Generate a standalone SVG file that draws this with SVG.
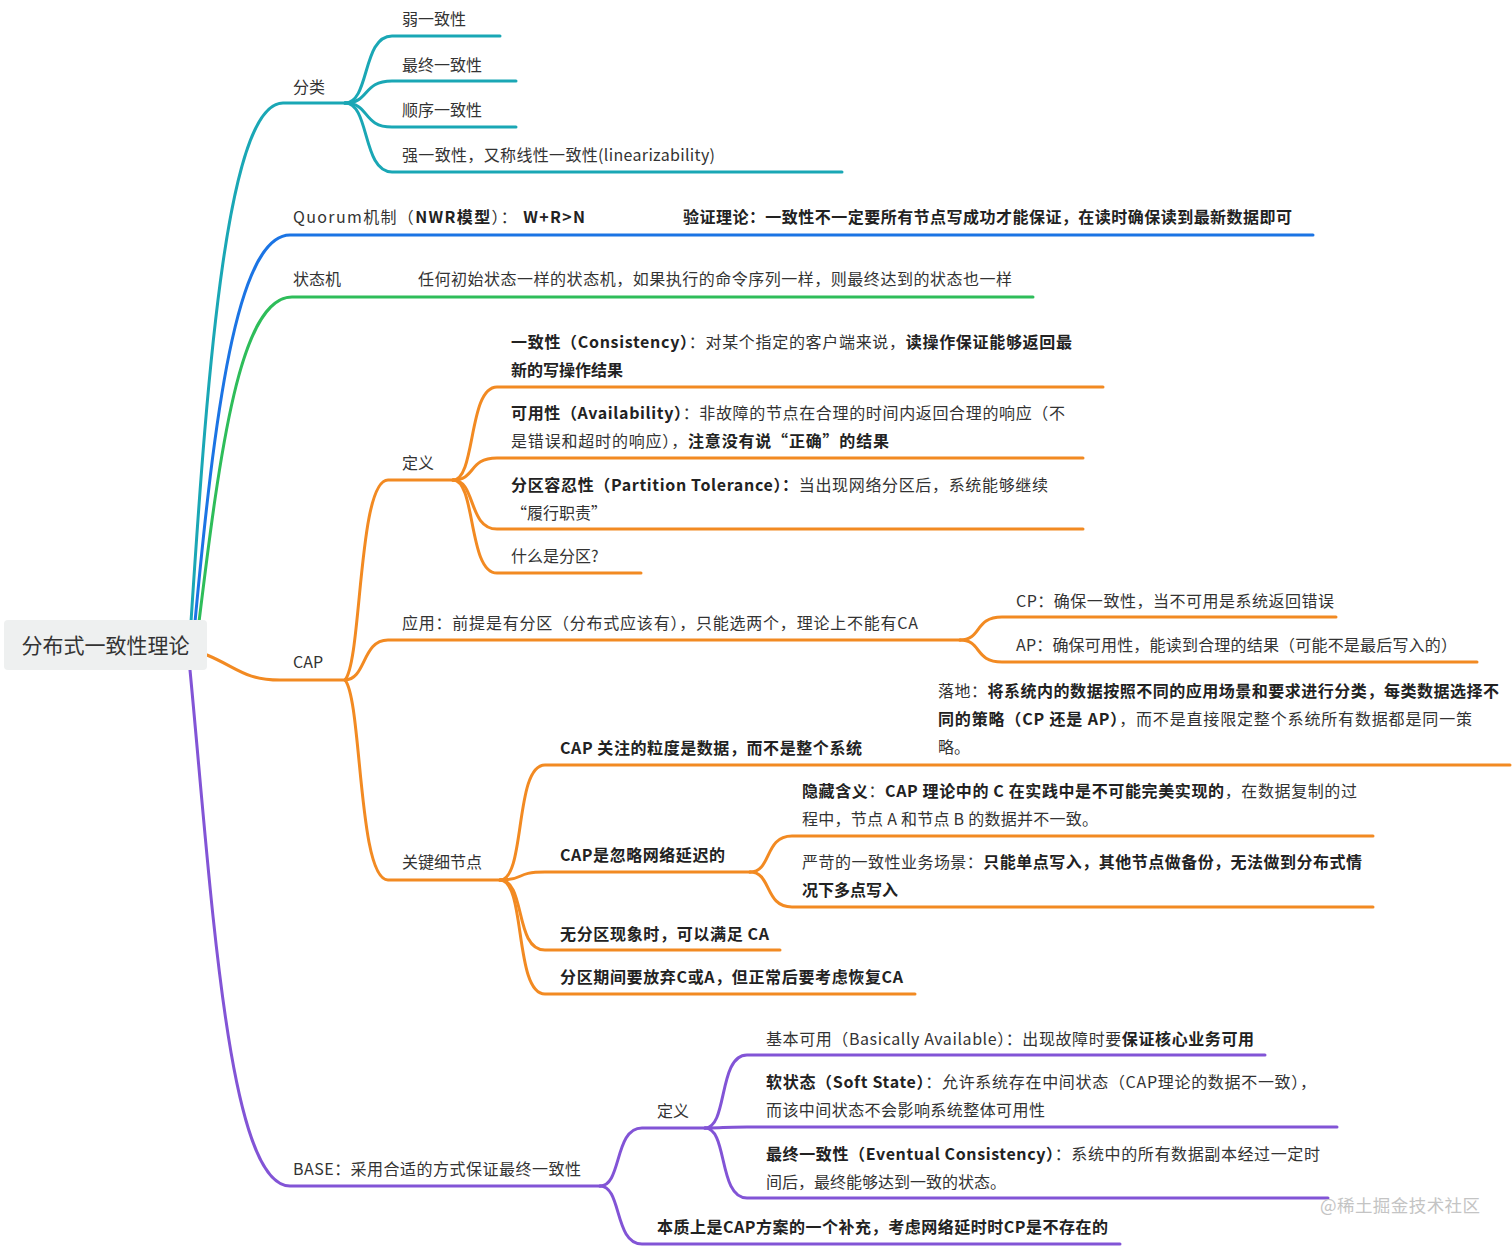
<svg xmlns="http://www.w3.org/2000/svg" width="1512" height="1247" viewBox="0 0 1512 1247">
<style>
text{font-family:"Noto Sans CJK SC","Noto Sans",sans-serif;font-size:16px;fill:#333}
.b{font-weight:bold;fill:#222}
.root{font-size:21px;fill:#333}
.wm{font-size:17.5px;fill:#c4c4c4}
path{fill:none;stroke-width:3;stroke-linecap:round}
.teal{stroke:#1aa7b5}.blue{stroke:#1b74e4}.green{stroke:#2ebd5a}.orange{stroke:#f28a22}.purple{stroke:#8254d6}
</style>
<rect width="1512" height="1247" fill="#ffffff"/>
<g id="connectors">
<path class="teal" d="M191,622 C208,360 228,103 283,103 L345,103"/>
<path class="teal" d="M345,103 C370,103 362,36 392,36 L500,36"/>
<path class="teal" d="M345,103 C370,103 362,81 392,81 L516,81"/>
<path class="teal" d="M345,103 C370,103 362,127 392,127 L516,127"/>
<path class="teal" d="M345,103 C370,103 362,172 392,172 L842,172"/>
<path class="blue" d="M195,622 C214,420 236,235 290,235 L1313,235"/>
<path class="green" d="M199,622 C220,450 240,297 292,297 L1033,297"/>
<path class="orange" d="M207,655 C238,668 245,680 280,680 L345,680"/>
<path class="orange" d="M345,680 C362,660 358,480 388,480 L453,480"/>
<path class="orange" d="M453,480 C476,480 468,387 497,387 L1103,387"/>
<path class="orange" d="M453,480 C476,480 468,458 497,458 L1083,458"/>
<path class="orange" d="M453,480 C476,480 468,529 497,529 L1083,529"/>
<path class="orange" d="M453,480 C476,480 468,573 497,573 L641,573"/>
<path class="orange" d="M345,680 C366,680 362,640 388,640 L960,640"/>
<path class="orange" d="M960,640 C982,640 974,617 1002,617 L1336,617"/>
<path class="orange" d="M960,640 C982,640 974,662 1002,662 L1477,662"/>
<path class="orange" d="M345,680 C362,700 358,880 388,880 L500,880"/>
<path class="orange" d="M500,880 C526,880 514,765 545,765 L1510,765"/>
<path class="orange" d="M500,880 C526,880 514,872 545,872 L750,872"/>
<path class="orange" d="M750,872 C772,872 764,836 792,836 L1373,836"/>
<path class="orange" d="M750,872 C772,872 764,907 792,907 L1373,907"/>
<path class="orange" d="M500,880 C526,880 514,950 545,950 L780,950"/>
<path class="orange" d="M500,880 C526,880 514,994 545,994 L915,994"/>
<path class="purple" d="M190,670 C212,900 228,1186 290,1186 L600,1186"/>
<path class="purple" d="M600,1186 C622,1186 614,1128 642,1128 L705,1128"/>
<path class="purple" d="M600,1186 C622,1186 614,1244 642,1244 L1120,1244"/>
<path class="purple" d="M705,1128 C728,1128 718,1055 747,1055 L1265,1055"/>
<path class="purple" d="M705,1128 C728,1128 718,1127 747,1127 L1337,1127"/>
<path class="purple" d="M705,1128 C728,1128 718,1198 747,1198 L1328,1198"/>
</g>
<g id="root">
<rect x="4" y="620" width="203" height="50" rx="4" fill="#eef0f0"/>
<text class="root" x="105.5" y="653" text-anchor="middle">分布式一致性理论</text>
</g>
<g id="n-fenlei"><text x="293" y="93">分类</text></g>
<g id="n-ruo"><text x="402" y="25">弱一致性</text></g>
<g id="n-zuizhong"><text x="402" y="71">最终一致性</text></g>
<g id="n-shunxu"><text x="402" y="116">顺序一致性</text></g>
<g id="n-qiang"><text x="402" y="161" textLength="313" lengthAdjust="spacing">强一致性，又称线性一致性(linearizability)</text></g>
<g id="n-quorum"><text x="293" y="223" textLength="292" lengthAdjust="spacing">Quorum机制（<tspan class="b">NWR模型</tspan>）： <tspan class="b">W+R&gt;N</tspan></text></g>
<g id="n-yanzheng"><text x="683" y="223" class="b" textLength="609" lengthAdjust="spacing">验证理论：一致性不一定要所有节点写成功才能保证，在读时确保读到最新数据即可</text></g>
<g id="n-ztj"><text x="293" y="285">状态机</text></g>
<g id="n-ztj-desc"><text x="418" y="285" textLength="594" lengthAdjust="spacing">任何初始状态一样的状态机，如果执行的命令序列一样，则最终达到的状态也一样</text></g>
<g id="n-cap"><text x="293" y="668">CAP</text></g>
<g id="n-cap-dingyi"><text x="402" y="469">定义</text></g>
<g id="n-c"><text x="511" y="348" textLength="561" lengthAdjust="spacing"><tspan class="b">一致性（Consistency）</tspan>：对某个指定的客户端来说，<tspan class="b">读操作保证能够返回最</tspan></text><text x="511" y="376" class="b">新的写操作结果</text></g>
<g id="n-a"><text x="511" y="419" textLength="554" lengthAdjust="spacing"><tspan class="b">可用性（Availability）</tspan>：非故障的节点在合理的时间内返回合理的响应（不</text><text x="511" y="447" textLength="378" lengthAdjust="spacing">是错误和超时的响应），<tspan class="b">注意没有说“正确”的结果</tspan></text></g>
<g id="n-p"><text x="511" y="491" textLength="537" lengthAdjust="spacing"><tspan class="b">分区容忍性（Partition Tolerance）：</tspan>当出现网络分区后，系统能够继续</text><text x="511" y="519">“履行职责”</text></g>
<g id="n-fenqu"><text x="511" y="562">什么是分区?</text></g>
<g id="n-yingyong"><text x="402" y="629" textLength="516" lengthAdjust="spacing">应用：前提是有分区（分布式应该有），只能选两个，理论上不能有CA</text></g>
<g id="n-cp"><text x="1016" y="607" textLength="318" lengthAdjust="spacing">CP：确保一致性，当不可用是系统返回错误</text></g>
<g id="n-ap"><text x="1016" y="651" textLength="441" lengthAdjust="spacing">AP：确保可用性，能读到合理的结果（可能不是最后写入的）</text></g>
<g id="n-guanjian"><text x="402" y="868">关键细节点</text></g>
<g id="n-lidu"><text x="560" y="754" class="b" textLength="302" lengthAdjust="spacing">CAP 关注的粒度是数据，而不是整个系统</text></g>
<g id="n-luodi"><text x="938" y="697" textLength="561" lengthAdjust="spacing">落地：<tspan class="b">将系统内的数据按照不同的应用场景和要求进行分类，每类数据选择不</tspan></text><text x="938" y="725" textLength="534" lengthAdjust="spacing"><tspan class="b">同的策略（CP 还是 AP）</tspan>，而不是直接限定整个系统所有数据都是同一策</text><text x="938" y="753">略。</text></g>
<g id="n-yanchi"><text x="560" y="861" class="b" textLength="165" lengthAdjust="spacing">CAP是忽略网络延迟的</text></g>
<g id="n-yincang"><text x="802" y="797" textLength="555" lengthAdjust="spacing"><tspan class="b">隐藏含义</tspan>：<tspan class="b">CAP 理论中的 C 在实践中是不可能完美实现的</tspan>，在数据复制的过</text><text x="802" y="825" textLength="296" lengthAdjust="spacing">程中，节点 A 和节点 B 的数据并不一致。</text></g>
<g id="n-yanke"><text x="802" y="868" textLength="560" lengthAdjust="spacing">严苛的一致性业务场景：<tspan class="b">只能单点写入，其他节点做备份，无法做到分布式情</tspan></text><text x="802" y="896" class="b">况下多点写入</text></g>
<g id="n-wufenqu"><text x="560" y="940" class="b" textLength="209" lengthAdjust="spacing">无分区现象时，可以满足 CA</text></g>
<g id="n-fenququjian"><text x="560" y="983" class="b" textLength="343" lengthAdjust="spacing">分区期间要放弃C或A，但正常后要考虑恢复CA</text></g>
<g id="n-base"><text x="293" y="1175" textLength="288" lengthAdjust="spacing">BASE：采用合适的方式保证最终一致性</text></g>
<g id="n-base-dingyi"><text x="657" y="1117">定义</text></g>
<g id="n-ba"><text x="766" y="1045" textLength="488" lengthAdjust="spacing">基本可用（Basically Available）：出现故障时要<tspan class="b">保证核心业务可用</tspan></text></g>
<g id="n-s"><text x="766" y="1088" textLength="550" lengthAdjust="spacing"><tspan class="b">软状态（Soft State）</tspan>：允许系统存在中间状态（CAP理论的数据不一致），</text><text x="766" y="1116" textLength="279" lengthAdjust="spacing">而该中间状态不会影响系统整体可用性</text></g>
<g id="n-e"><text x="766" y="1160" textLength="554" lengthAdjust="spacing"><tspan class="b">最终一致性（Eventual Consistency）</tspan>：系统中的所有数据副本经过一定时</text><text x="766" y="1188">间后，最终能够达到一致的状态。</text></g>
<g id="n-benzhi"><text x="657" y="1233" class="b" textLength="451" lengthAdjust="spacing">本质上是CAP方案的一个补充，考虑网络延时时CP是不存在的</text></g>
<text class="wm" x="1320" y="1212" textLength="160" lengthAdjust="spacing">@稀土掘金技术社区</text>
</svg>
